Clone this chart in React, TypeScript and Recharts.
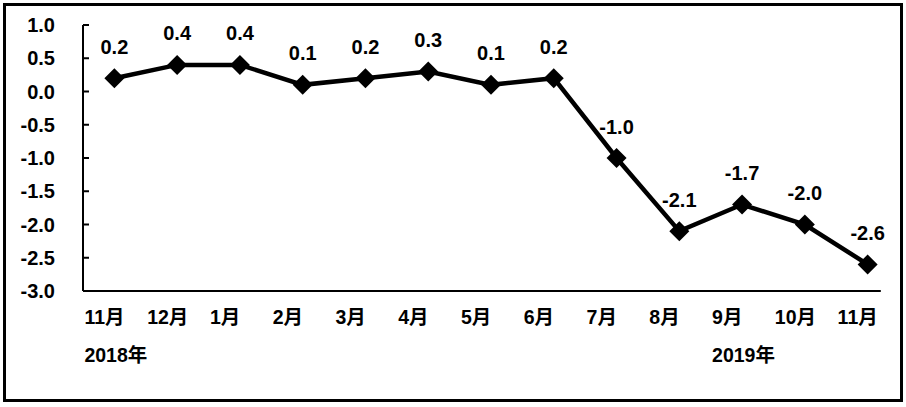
import React from 'react';
import { LineChart, Line, XAxis, YAxis, ReferenceLine } from 'recharts';

const months = ['11月', '12月', '1月', '2月', '3月', '4月', '5月', '6月', '7月', '8月', '9月', '10月', '11月'];
const values = [0.2, 0.4, 0.4, 0.1, 0.2, 0.3, 0.1, 0.2, -1.0, -2.1, -1.7, -2.0, -2.6];
const yearLabels: Record<number, string> = { 0: '2018年', 10: '2019年' };
const yTicks = [-3, -2.5, -2, -1.5, -1, -0.5, 0, 0.5, 1];
const xTicks = months.map((_, i) => i);

const data = months.map((m, i) => ({ idx: i, month: m, value: values[i] }));

const FONT = "Arial, 'Liberation Sans', 'Noto Sans CJK SC', sans-serif";

const Diamond = (props: any) => {
  const { cx, cy, index } = props;
  if (cx == null || cy == null) return null;
  const r = 10;
  return (
    <polygon
      key={`d-${index}`}
      points={`${cx},${cy - r} ${cx + r},${cy} ${cx},${cy + r} ${cx - r},${cy}`}
      fill="#000"
    />
  );
};

const renderLabel = (props: any) => {
  const { x, y, value, index } = props;
  return (
    <text
      key={`l-${index}`}
      x={x}
      y={y - 24.5}
      textAnchor="middle"
      fontFamily={FONT}
      fontSize={20}
      fontWeight="bold"
      fill="#000"
    >
      {Number(value).toFixed(1)}
    </text>
  );
};

const XTick = (props: any) => {
  const { x, y, payload } = props;
  const i = payload.value as number;
  const year = yearLabels[i];
  return (
    <g>
      <text x={x - 30} y={y + 33} textAnchor="start" fontFamily={FONT} fontSize={19.5} fontWeight="bold" fill="#000">
        {months[i]}
      </text>
      {year ? (
        <text x={x - 30} y={y + 71} textAnchor="start" fontFamily={FONT} fontSize={19.5} fontWeight="bold" fill="#000">
          {year}
        </text>
      ) : null}
    </g>
  );
};

const YTick = (props: any) => {
  const { x, y, payload } = props;
  return (
    <g>
      <line x1={x} y1={y} x2={x + 6} y2={y} stroke="#000" strokeWidth={2} />
      <text x={x - 28} y={y} dy="0.355em" textAnchor="end" fontFamily={FONT} fontSize={20} fontWeight="bold" fill="#000">
        {Number(payload.value).toFixed(1)}
      </text>
    </g>
  );
};

export default function App() {
  return (
    <div style={{ position: 'absolute', left: 0, top: 0, width: 906, height: 407, background: '#fff' }}>
      <div
        style={{
          position: 'absolute',
          left: 3,
          top: 3,
          width: 900,
          height: 399,
          border: '3px solid #000',
          boxSizing: 'border-box',
        }}
      />
      <div style={{ position: 'absolute', left: 0, top: 0 }}>
        <LineChart width={906} height={407} data={data} margin={{ top: 25, right: 7, bottom: 0, left: 0 }}>
          <XAxis
            dataKey="idx"
            type="number"
            domain={[-0.5, 12.5]}
            ticks={xTicks}
            interval={0}
            height={116}
            axisLine={false}
            tickLine={false}
            tickSize={0}
            tickMargin={0}
            tick={<XTick />}
          />
          <YAxis
            width={83}
            domain={[-3, 1]}
            ticks={yTicks}
            interval={0}
            axisLine={{ stroke: '#000', strokeWidth: 2 }}
            tickLine={false}
            tickSize={0}
            tickMargin={0}
            tick={<YTick />}
          />
          <ReferenceLine
            segment={[{ x: -0.5, y: -3 }, { x: 12.21, y: -3 }]}
            stroke="#000"
            strokeWidth={2}
            ifOverflow="visible"
          />
          <Line
            type="linear"
            dataKey="value"
            stroke="#000"
            strokeWidth={4.5}
            dot={Diamond}
            activeDot={false}
            label={renderLabel}
            isAnimationActive={false}
          />
        </LineChart>
      </div>
    </div>
  );
}
